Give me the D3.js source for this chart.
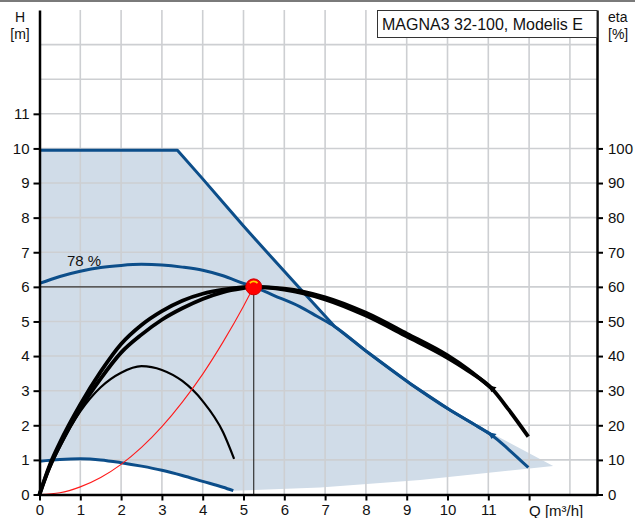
<!DOCTYPE html>
<head>
  <meta charset="utf-8">
  <style>
    body { margin: 0; background: #fff; }
    svg text { font-family: "Liberation Sans", Arial, sans-serif; font-size: 15px; fill: #111; }
    svg .grid { stroke: #cdcfd2; stroke-width: 1.6px; }
    svg .axis path, svg .axis line { stroke: #000; }
    svg .axis path { stroke-width: 2.5px; }
    svg .axis line { stroke-width: 2px; }
  </style>
</head>
<body>
<script src="https://d3js.org/d3.v7.min.js"></script>
<script>
  // tick values
  var qTicks   = [0, 1, 2, 3, 4, 5, 6, 7, 8, 9, 10, 11, 12];
  var hTicks   = [0, 1, 2, 3, 4, 5, 6, 7, 8, 9, 10, 11];
  var etaTicks = [0, 10, 20, 30, 40, 50, 60, 70, 80, 90, 100];
  var gridQ    = [1, 2, 3, 4, 5, 6, 7, 8, 9, 10, 11, 12, 13];
  var gridH    = [1, 2, 3, 4, 5, 6, 7, 8, 9, 10, 11, 12, 13];

  // head curves, [Q m3/h, H m]
  var maxCurve = [[0, 9.95], [3.38, 9.95], [4, 9.12], [4.5, 8.44], [5, 7.76], [5.5, 7.1],
                  [6, 6.45], [6.5, 5.8], [7.24, 4.85], [8.02, 4.13], [9.08, 3.21],
                  [10.06, 2.44], [10.72, 1.98], [11.08, 1.72]];
  var speed78  = [[0, 6.1], [0.5, 6.3], [1, 6.45], [1.5, 6.56], [2, 6.62], [2.5, 6.65], [3, 6.63],
                  [3.5, 6.57], [4, 6.48], [4.5, 6.32], [5, 6.1], [5.25, 6.0], [5.75, 5.75],
                  [6.38, 5.43], [6.8, 5.15], [7.24, 4.85], [8.02, 4.13], [9.08, 3.21],
                  [10.06, 2.44], [10.72, 1.98], [11.08, 1.72], [11.5, 1.3], [11.98, 0.78]];
  var minCurve = [[0, 0.96], [0.5, 1.01], [1, 1.03], [1.5, 1.0], [2, 0.92], [2.5, 0.82], [3, 0.7],
                  [3.5, 0.55], [4, 0.38], [4.5, 0.21], [4.75, 0.11]];
  // lower/right border of the working area
  var areaEdge = [[11.08, 1.77], [12.59, 0.82], [9.33, 0.42], [6.88, 0.2], [4.75, 0.11]];
  // system curve
  var sysCurve = [[0, 0], [0.5, 0.05], [1, 0.22], [1.5, 0.49], [2, 0.87], [2.5, 1.36], [3, 1.96],
                  [3.5, 2.67], [4, 3.48], [4.5, 4.41], [5, 5.44], [5.25, 6.0]];

  // efficiency curves, [Q m3/h, eta %]
  var etaA   = [[0, 0], [0.25, 8.5], [0.5, 15], [1, 26], [1.5, 35.5], [2, 43.5], [2.5, 49], [3, 53],
                [3.5, 56], [4, 58], [4.5, 59.2], [5, 59.9], [5.25, 60], [6, 59.5], [7, 57],
                [8, 52.5], [9, 46.5], [10, 40.2], [10.5, 36.2], [11.08, 30.7]];
  var etaB   = [[0, 0], [0.25, 8], [0.5, 14.2], [1, 24.8], [1.5, 33.5], [2, 41], [2.5, 46.2],
                [3, 50.5], [3.5, 53.8], [4, 56.5], [4.5, 58.5], [5, 59.6], [5.25, 60], [6, 59.2],
                [7, 56.4], [8, 51.7], [9, 45.7], [10, 39.5], [10.5, 35.8], [11.08, 30.7],
                [11.5, 24.5], [11.98, 16.7]];
  var etaMin = [[0, 0], [0.25, 7.5], [0.5, 13.8], [1, 24], [1.5, 31], [2, 35.2], [2.5, 37.1],
                [3, 36], [3.5, 32.8], [4, 27], [4.5, 18], [4.77, 10.3]];

  var duty = [5.25, 6.0];

  var width = 635, height = 518;
  var svg = d3.select("body").append("svg")
      .attr("width", width)
      .attr("height", height);

  var xScale   = d3.scaleLinear().domain([0, 13.664]).range([39.5, 597]);
  var yScale   = d3.scaleLinear().domain([0, 14]).range([494.5, 10]);
  var etaScale = d3.scaleLinear().domain([0, 140]).range([494.5, 10]);

  var line = d3.line()
    .x(function (d) { return xScale(d[0]); })
    .y(function (d) { return yScale(d[1]); })
    .curve(d3.curveMonotoneX);
  var straight = d3.line()
    .x(function (d) { return xScale(d[0]); })
    .y(function (d) { return yScale(d[1]); });
  var etaLine = d3.line()
    .x(function (d) { return xScale(d[0]); })
    .y(function (d) { return etaScale(d[1]); })
    .curve(d3.curveMonotoneX);

  // gray strip at the top of the picture
  svg.append("rect")
      .attr("x", 0).attr("y", 0)
      .attr("width", width).attr("height", 2)
      .style("fill", "#7a7a7a");

  // working area
  var area = [[0, 0.96]].concat(maxCurve, areaEdge, minCurve.slice().reverse());
  svg.append("path")
      .attr("d", straight(area) + "Z")
      .style("fill", "#d0dce8")
      .style("stroke", "none");

  // grid
  svg.selectAll("line.gv").data(gridQ).enter().append("line")
      .attr("class", "grid")
      .attr("x1", function (d) { return xScale(d); })
      .attr("x2", function (d) { return xScale(d); })
      .attr("y1", yScale(0)).attr("y2", yScale(14));
  svg.selectAll("line.gh").data(gridH).enter().append("line")
      .attr("class", "grid")
      .attr("y1", function (d) { return yScale(d); })
      .attr("y2", function (d) { return yScale(d); })
      .attr("x1", xScale(0)).attr("x2", xScale(13.664));

  // duty point cross lines
  svg.append("line")
      .attr("x1", xScale(0)).attr("x2", xScale(duty[0]))
      .attr("y1", yScale(duty[1])).attr("y2", yScale(duty[1]))
      .style("stroke", "#333").style("stroke-width", 1.2);
  svg.append("line")
      .attr("x1", xScale(duty[0])).attr("x2", xScale(duty[0]))
      .attr("y1", yScale(duty[1])).attr("y2", yScale(0))
      .style("stroke", "#333").style("stroke-width", 1.2);

  // blue head curves (max curve has a sharp knee)
  svg.append("path")
      .attr("d", straight(maxCurve))
      .style("fill", "none").style("stroke", "#0c4e8a").style("stroke-width", "3px")
      .style("stroke-linejoin", "round");
  [speed78, minCurve].forEach(function (c) {
    svg.append("path")
        .attr("d", line(c))
        .style("fill", "none")
        .style("stroke", "#0c4e8a")
        .style("stroke-width", "3px");
  });

  // efficiency curves
  svg.append("path")
      .attr("d", etaLine(etaMin))
      .style("fill", "none").style("stroke", "#000").style("stroke-width", "2.2px");
  [etaA, etaB].forEach(function (c) {
    svg.append("path")
        .attr("d", etaLine(c))
        .style("fill", "none").style("stroke", "#000").style("stroke-width", "3.8px");
  });

  // small flags where curves end
  function flag(px, py, col) {
    svg.append("path")
        .attr("d", "M" + (px - 4) + "," + (py - 3) + " L" + (px + 5) + "," + (py - 1) +
                   " L" + px + "," + (py + 4) + "Z")
        .style("fill", col);
  }
  flag(xScale(11.08), etaScale(30.7), "#000");
  flag(xScale(11.08), yScale(1.72), "#0c4e8a");

  // system curve
  svg.append("path")
      .attr("d", line(sysCurve))
      .style("fill", "none").style("stroke", "#ff1a1a").style("stroke-width", "1.1px");

  svg.append("text")
      .attr("x", 67).attr("y", 266)
      .text("78 %");

  // axes
  var xAxis = d3.axisBottom(xScale).tickValues(qTicks).tickSize(6).tickSizeOuter(0).tickPadding(4)
      .tickFormat(function (d) { return d === 12 ? "" : d; });
  svg.append("g").attr("class", "axis")
      .attr("transform", "translate(0," + yScale(0) + ")")
      .call(xAxis);
  svg.append("text")
      .attr("x", xScale(12)).attr("y", yScale(0) + 21)
      .text("Q [m\u00b3/h]");

  var yAxis = d3.axisLeft(yScale).tickValues(hTicks).tickSize(6).tickSizeOuter(0).tickPadding(4);
  svg.append("g").attr("class", "axis")
      .attr("transform", "translate(" + xScale(0) + ",0)")
      .call(yAxis);

  var etaAxis = d3.axisRight(etaScale).tickValues(etaTicks).tickSize(6).tickSizeOuter(0).tickPadding(5);
  svg.append("g").attr("class", "axis")
      .attr("transform", "translate(" + xScale(13.664) + ",0)")
      .call(etaAxis);

  svg.selectAll(".axis").attr("font-size", null).attr("font-family", null);

  // axis titles
  svg.append("text").attr("x", 20).attr("y", 22).style("text-anchor", "middle")
      .style("font-size", "14px").text("H");
  svg.append("text").attr("x", 20).attr("y", 39).style("text-anchor", "middle")
      .style("font-size", "14px").text("[m]");
  svg.append("text").attr("x", 608).attr("y", 22).style("font-size", "14px").text("eta");
  svg.append("text").attr("x", 608).attr("y", 39).style("font-size", "14px").text("[%]");

  // title box
  svg.append("rect")
      .attr("x", 377.5).attr("y", 10.5)
      .attr("width", xScale(13.664) - 377.5).attr("height", 27)
      .style("fill", "#fff").style("stroke", "#333").style("stroke-width", 1);
  svg.append("text").attr("x", 382).attr("y", 30).style("font-size", "16px")
      .text("MAGNA3 32-100, Modelis E");

  // duty point
  var dp = svg.append("g")
      .attr("transform", "translate(" + xScale(duty[0]) + "," + yScale(duty[1]) + ")");
  dp.append("circle").attr("r", 8)
      .style("fill", "#ff0000").style("stroke", "#d00000").style("stroke-width", 1);
  dp.append("path")
      .attr("d", d3.arc().innerRadius(4.5).outerRadius(6.3).startAngle(-0.8).endAngle(0.8)())
      .style("fill", "#ffcc00");
</script>
</body>
</html>
